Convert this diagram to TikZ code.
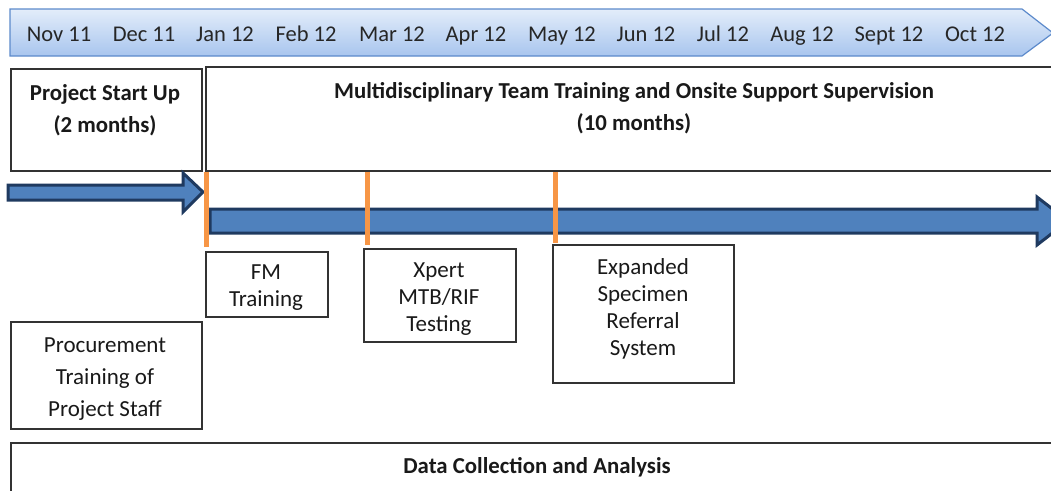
\documentclass[tikz,border=0pt]{standalone}
\usepackage{fontspec}
\setmainfont{Carlito}
\begin{document}
\begin{tikzpicture}[x=1pt,y=-1pt,
  box/.style={draw=black!80, line width=1.6pt, fill=white, inner sep=0pt, anchor=north west},
  txt/.style={font=\fontsize{23}{27}\selectfont, align=center, text=black!90, inner sep=0pt},
  btxt/.style={font=\fontsize{22.8}{32}\selectfont\bfseries, align=center, text=black!90, inner sep=0pt},
  mon/.style={font=\fontsize{22.5}{26}\selectfont, text=black!85, inner sep=0pt},
  bigarrow/.style={fill=arrowblue, draw=arrowdark, line width=3pt, line join=miter},
  milestone/.style={draw=mileorange, line width=5pt}
]
\definecolor{arrowblue}{HTML}{4F81BD}
\definecolor{arrowdark}{HTML}{1F3A60}
\definecolor{mileorange}{HTML}{F79646}
\definecolor{hdrtop}{HTML}{E3EDFA}
\definecolor{hdrbot}{HTML}{A8C5EE}
\definecolor{hdrline}{HTML}{5C8ACB}
\useasboundingbox (0,0) rectangle (1051,490);
\clip (0,0) rectangle (1051,490);

% header timeline arrow
\draw[draw=hdrline, line width=1.2pt, top color=hdrtop, bottom color=hdrbot]
  (10,9) -- (1022,9) -- (1053,33) -- (1022,56) -- (10,56) -- cycle;
\foreach \m/\x [count=\i] in {Nov 11/59, Dec 11/144, Jan 12/225, Feb 12/306, Mar 12/392, Apr 12/476, May 12/562, Jun 12/646, Jul 12/723, Aug 12/802, Sept 12/889, Oct 12/975}
  \node[mon, anchor=base] (m\i) at (\x,41) {\m};

% phase boxes
\node[box, minimum width=191pt, minimum height=102pt] (startup) at (10,68) {};
\node[btxt] (startupt) at (105,110) {Project Start Up\\(2 months)};
\node[box, minimum width=860pt, minimum height=104pt] (mdt) at (205,66) {};
\node[btxt] (mdtt) at (634,108) {Multidisciplinary Team Training and Onsite Support Supervision\\(10 months)};

% arrows
\draw[bigarrow] (8,185) -- (183,185) -- (183,173) -- (203,192) -- (183,212) -- (183,200) -- (8,200) -- cycle;
\draw[bigarrow] (210,209) -- (1037,209) -- (1037,197) -- (1068,221) -- (1037,245) -- (1037,233) -- (210,233) -- cycle;

% milestones
\draw[milestone] (206,172) -- (206,247);
\draw[milestone] (367,172) -- (367,245);
\draw[milestone] (555,172) -- (555,243);

% activity boxes
\node[box, minimum width=122pt, minimum height=65pt] (fm) at (205,251) {};
\node[txt] (fmt) at (266,288) {FM\\Training};
\node[box, minimum width=152pt, minimum height=93pt] (xpert) at (363,248) {};
\node[txt] (xpertt) at (439,299) {Xpert\\MTB/RIF\\Testing};
\node[box, minimum width=181pt, minimum height=138pt] (esrs) at (552,244) {};
\node[txt] (esrst) at (643,309) {Expanded\\Specimen\\Referral\\System};
\node[box, minimum width=191pt, minimum height=107pt] (proc) at (10,321) {};
\node[txt, font=\fontsize{23}{32}\selectfont] (proct) at (105,379) {Procurement\\Training of\\Project Staff};
\node[box, minimum width=1054pt, minimum height=70pt] (data) at (10,442) {};
\node[btxt, anchor=center] (datat) at (537,467) {Data Collection and Analysis};
\end{tikzpicture}
\end{document}
